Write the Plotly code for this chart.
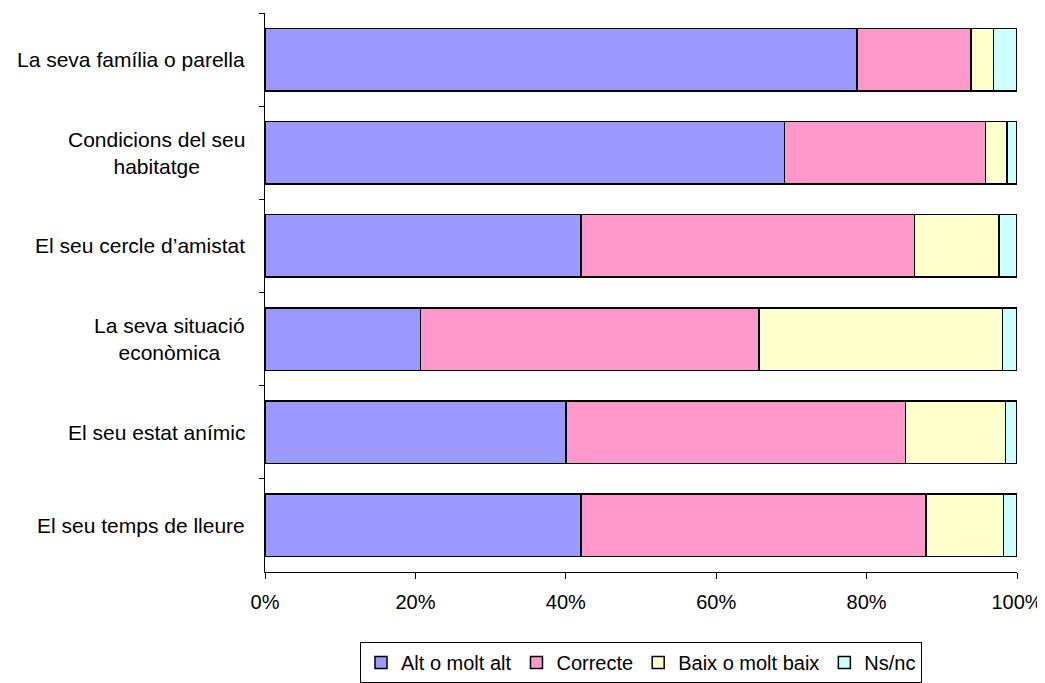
import plotly.graph_objects as go

categories = [
    "La seva família o parella",
    "Condicions del seu<br>habitatge",
    "El seu cercle d’amistat",
    "La seva situació<br>econòmica",
    "El seu estat anímic",
    "El seu temps de lleure",
]
series_names = ["Alt o molt alt", "Correcte", "Baix o molt baix", "Ns/nc"]
alt = [78.7, 69.1, 42.0, 20.7, 40.0, 42.0]
correcte = [15.2, 26.7, 44.4, 45.0, 45.2, 45.9]
baix = [3.0, 2.9, 11.2, 32.4, 13.3, 10.3]
nsnc = [3.1, 1.3, 2.4, 1.9, 1.5, 1.8]
colors = ["#9999FF", "#FF99CC", "#FFFFCC", "#CCFFFF"]
x_ticks = [0, 20, 40, 60, 80, 100]
x_tick_labels = ["0%", "20%", "40%", "60%", "80%", "100%"]

FONT = "Liberation Sans, Arial, sans-serif"
fig = go.Figure()
for name, vals, col in zip(series_names, [alt, correcte, baix, nsnc], colors):
    fig.add_trace(go.Bar(
        name=name, y=categories, x=vals, orientation="h",
        marker=dict(color=col, line=dict(color="black", width=1.5)),
    ))

for c in categories:
    fig.add_annotation(
        x=-0.024, xref="paper", y=c, yref="y", text=c, showarrow=False,
        xanchor="right", yanchor="middle", align="center",
        font=dict(family=FONT, size=21, color="black"),
    )

fig.update_layout(
    barmode="stack",
    bargap=0.33,
    width=1037, height=675,
    margin=dict(l=257, r=28, t=5, b=111, autoexpand=False),
    plot_bgcolor="white", paper_bgcolor="white",
    font=dict(family=FONT, size=20, color="black"),
    legend=dict(
        orientation="h", x=0.5, xanchor="center", y=-0.125, yanchor="top",
        bordercolor="black", borderwidth=1, font=dict(size=20),
        itemwidth=30, traceorder="normal",
    ),
    xaxis=dict(
        range=[0, 100], tickvals=x_ticks, ticktext=x_tick_labels,
        showgrid=False, zeroline=False, showline=True, linecolor="black",
        linewidth=1, ticks="outside", ticklen=6, tickcolor="black",
        ticklabelstandoff=6, automargin=False,
    ),
    yaxis=dict(
        categoryorder="array", categoryarray=categories, autorange="reversed",
        showticklabels=False, showgrid=False, zeroline=False,
        showline=True, linecolor="black", linewidth=1,
        ticks="outside", ticklen=5, tickcolor="black", tickson="boundaries",
        automargin=False,
    ),
    showlegend=True,
)

fig.write_html("out.html")
